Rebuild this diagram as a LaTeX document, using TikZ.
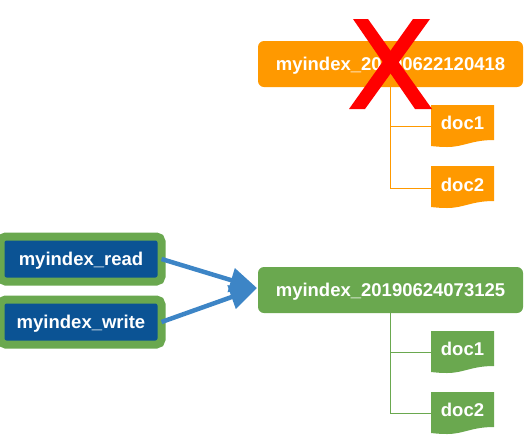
\documentclass[tikz,border=0pt]{standalone}
\usepackage{fontspec}
\setmainfont{Liberation Sans}
\usetikzlibrary{arrows.meta}
\definecolor{orangeC}{HTML}{FF9900}
\definecolor{greenC}{HTML}{6AA84F}
\definecolor{blueC}{HTML}{0B5394}
\definecolor{arrowC}{HTML}{3D85C6}
\definecolor{crossC}{HTML}{FF0000}
\newcommand{\docshape}[3]{%
  \begin{scope}[shift={(#1,#2)}]
  \fill[#3] (0,0) -- (63,0) -- (63,35)
    .. controls (40,35) and (33,42) .. (16,42)
    .. controls (9,42) and (5,41.5) .. (0,41) -- cycle;
  \end{scope}}
\tikzset{
  x=1pt,y=-1pt,
  every node/.style={font=\fontsize{18.5}{20}\selectfont\bfseries,text=white,inner sep=0pt},
  indexbox/.style={rounded corners=6pt,minimum width=265pt,minimum height=46pt,text height=15pt,text depth=2pt},
  aliasbox/.style={draw=greenC,line width=8pt,fill=blueC,rounded corners=5pt,minimum width=161pt,minimum height=45pt,text height=14pt,text depth=2pt},
  docbox/.style={minimum width=63pt,minimum height=42pt,text height=9.4pt,text depth=2pt},
  branch/.style={line width=0.9pt},
  aliasarrow/.style={draw=arrowC,line width=4.5pt,-{Triangle[length=27pt,width=24pt]},shorten >=0pt}
}
\begin{document}
\begin{tikzpicture}
\useasboundingbox (0,0) rectangle (526,437);
% old index
\node[indexbox,fill=orangeC] (old) at (390.5,64) {myindex\_20190622120418};
\docshape{431}{105}{orangeC}
\docshape{431}{166}{orangeC}
\node[docbox] (od1) at (462.5,126) {doc1};
\node[docbox] (od2) at (462.5,188) {doc2};
\coordinate (ot) at (390.5,87);
\draw[branch,orangeC] (ot) |- (od1.west);
\draw[branch,orangeC] (ot) |- (od2.west);
% new index
\node[indexbox,fill=greenC] (new) at (390.5,290) {myindex\_20190624073125};
\docshape{431}{331}{greenC}
\docshape{431}{392}{greenC}
\node[docbox] (nd1) at (462.5,352) {doc1};
\node[docbox] (nd2) at (462.5,413) {doc2};
\coordinate (nt) at (390.5,313);
\draw[branch,greenC] (nt) |- (nd1.west);
\draw[branch,greenC] (nt) |- (nd2.west);
% aliases
\node[aliasbox] (rd) at (81,259) {myindex\_read};
\node[aliasbox] (wr) at (81,322) {myindex\_write};
\coordinate (hit) at (257,288);
\draw[aliasarrow] (rd.east) ++(-4,0) -- (hit);
\draw[aliasarrow] (wr.east) ++(-4,0) -- (hit);
% cross
\fill[crossC] (353,19) -- (368,19) -- (432,109) -- (415,109) -- cycle;
\fill[crossC] (413,19) -- (430,19) -- (365,109) -- (349,109) -- cycle;
\end{tikzpicture}
\end{document}
